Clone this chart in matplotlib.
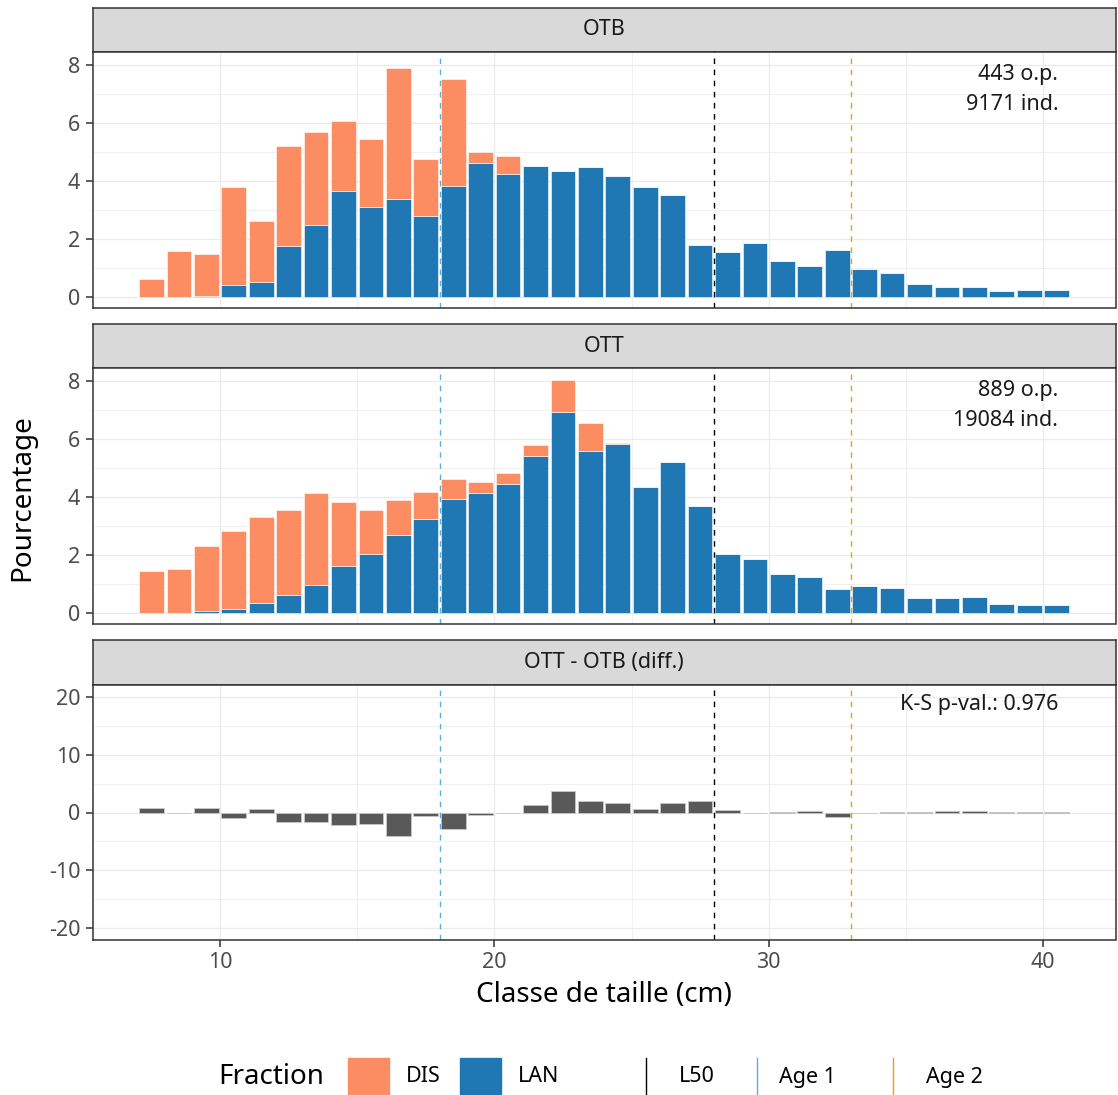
import numpy as np
import matplotlib
matplotlib.use("Agg")
import matplotlib.pyplot as plt
from matplotlib.patches import Rectangle
from matplotlib.lines import Line2D
from matplotlib.ticker import MultipleLocator

plt.rcParams['font.family'] = ['Noto Sans', 'DejaVu Sans']
plt.rcParams['axes.unicode_minus'] = False

# size classes (cm), bar centres
size_class = np.arange(7.5, 41, 1.0)

# OTB: percentages by fraction
otb_lan = [0, 0, 0.02, 0.40, 0.52, 1.75, 2.48, 3.66, 3.10, 3.38, 2.77, 3.84, 4.62, 4.24,
           4.52, 4.33, 4.49, 4.16, 3.80, 3.52, 1.77, 1.55, 1.85, 1.22, 1.05, 1.62, 0.97,
           0.82, 0.45, 0.33, 0.33, 0.18, 0.22, 0.24]
otb_dis = [0.62, 1.57, 1.47, 3.39, 2.09, 3.47, 3.21, 2.42, 2.35, 4.52, 2.00, 3.69, 0.38,
           0.62, 0, 0, 0, 0, 0, 0, 0, 0, 0, 0, 0, 0, 0, 0, 0, 0, 0, 0, 0, 0]

# OTT: percentages by fraction
ott_lan = [0, 0, 0.08, 0.15, 0.33, 0.62, 0.98, 1.63, 2.05, 2.68, 3.25, 3.92, 4.16, 4.46,
           5.41, 6.94, 5.61, 5.82, 4.34, 5.22, 3.70, 2.05, 1.85, 1.33, 1.26, 0.83, 0.94,
           0.85, 0.53, 0.52, 0.56, 0.30, 0.26, 0.28]
ott_dis = [1.46, 1.53, 2.22, 2.68, 2.97, 2.93, 3.15, 2.21, 1.50, 1.21, 0.93, 0.71, 0.37,
           0.37, 0.39, 1.09, 0.94, 0.05, 0, 0, 0, 0, 0, 0, 0, 0, 0, 0, 0, 0, 0, 0, 0, 0]

panel_titles = ["OTB", "OTT", "OTT - OTB (diff.)"]
otb_notes = ["443 o.p.", "9171 ind."]
ott_notes = ["889 o.p.", "19084 ind."]
ks_note = "K-S p-val.: 0.976"

l50 = 28
age1 = 18
age2 = 33

C_DIS = "#FC8D62"
C_LAN = "#1F77B4"
C_DIFF = "#595959"
C_L50 = "black"
C_AGE1 = "#5AAFDD"
C_AGE2 = "#E8A600"
GRID = "#EBEBEB"
DARK = "#333333"
TICK = "#4D4D4D"

W, H = 1118, 1095
fig = plt.figure(figsize=(W / 100, H / 100), dpi=100)


def px_axes(x0, y0, x1, y1):
    # pixel box (top-left origin) -> figure axes
    return fig.add_axes([x0 / W, 1 - y1 / H, (x1 - x0) / W, (y1 - y0) / H])


LEFT, RIGHT = 92.7, 1115.5
panels = [(7.5, 52.0, 308.0), (323.7, 368.3, 624.3), (640.3, 685.0, 940.0)]


def strip(y0, y1, label):
    s = px_axes(LEFT, y0, RIGHT, y1)
    s.set_facecolor("#D9D9D9")
    s.set_xticks([])
    s.set_yticks([])
    for sp in s.spines.values():
        sp.set_color(DARK)
        sp.set_linewidth(1.1)
    s.text(0.5, 0.5, label, ha="center", va="center", fontsize=15.5, color="#1A1A1A",
           transform=s.transAxes)


def style_panel(ax, show_x):
    ax.set_xlim(5.355, 42.645)
    ax.xaxis.set_major_locator(MultipleLocator(10))
    ax.xaxis.set_minor_locator(MultipleLocator(5))
    ax.grid(True, which="major", color=GRID, lw=0.9)
    ax.grid(True, which="minor", color=GRID, lw=0.5)
    ax.set_axisbelow(True)
    for sp in ax.spines.values():
        sp.set_color(DARK)
        sp.set_linewidth(1.1)
    ax.tick_params(axis="y", which="major", length=5, width=1.1, color=DARK,
                   labelsize=15.5, labelcolor=TICK, pad=4)
    ax.tick_params(which="minor", length=0)
    if show_x:
        ax.tick_params(axis="x", which="major", length=5, width=1.1, color=DARK,
                       labelsize=15.5, labelcolor=TICK, pad=4)
    else:
        ax.tick_params(axis="x", which="major", length=0, labelbottom=False)


def ref_lines(ax):
    dash = (0, (4, 4))
    ax.axvline(l50, color=C_L50, lw=1.0, ls=dash)
    ax.axvline(age1, color=C_AGE1, lw=1.0, ls=dash)
    ax.axvline(age2, color=C_AGE2, lw=1.0, ls=dash)


def stacked(ax, lan, dis, notes):
    lan = np.array(lan)
    dis = np.array(dis)
    ax.bar(size_class, lan, width=0.9, color=C_LAN, edgecolor="white", lw=0.4)
    ax.bar(size_class, dis, bottom=lan, width=0.9, color=C_DIS, edgecolor="white", lw=0.4)
    ax.set_ylim(-0.39, 8.45)
    ax.yaxis.set_major_locator(MultipleLocator(2))
    ax.yaxis.set_minor_locator(MultipleLocator(1))
    ref_lines(ax)
    ax.text(0.944, 0.913, notes[0], ha="right", va="center", fontsize=15.5,
            color="#1A1A1A", transform=ax.transAxes)
    ax.text(0.944, 0.795, notes[1], ha="right", va="center", fontsize=15.5,
            color="#1A1A1A", transform=ax.transAxes)


# OTB panel
strip(panels[0][0], panels[0][1], panel_titles[0])
ax1 = px_axes(LEFT, panels[0][1], RIGHT, panels[0][2])
style_panel(ax1, False)
stacked(ax1, otb_lan, otb_dis, otb_notes)

# OTT panel
strip(panels[1][0], panels[1][1], panel_titles[1])
ax2 = px_axes(LEFT, panels[1][1], RIGHT, panels[1][2])
style_panel(ax2, False)
stacked(ax2, ott_lan, ott_dis, ott_notes)

# difference of totals
diff = (np.array(ott_lan) + np.array(ott_dis)) - (np.array(otb_lan) + np.array(otb_dis))
strip(panels[2][0], panels[2][1], panel_titles[2])
ax3 = px_axes(LEFT, panels[2][1], RIGHT, panels[2][2])
style_panel(ax3, True)
ax3.bar(size_class, diff, width=0.9, color=C_DIFF, edgecolor="#C8C8C8", lw=0.6)
ax3.set_ylim(-22, 22)
ax3.yaxis.set_major_locator(MultipleLocator(10))
ax3.yaxis.set_minor_locator(MultipleLocator(5))
ref_lines(ax3)
ax3.text(0.944, 0.923, ks_note, ha="right", va="center", fontsize=15.5,
         color="#1A1A1A", transform=ax3.transAxes)

# axis titles
fig.text(22 / W, 1 - 498 / H, "Pourcentage", rotation=90, ha="center", va="center",
         fontsize=20, color="black")
fig.text(604 / W, 1 - 995 / H, "Classe de taille (cm)", ha="center", va="center",
         fontsize=20, color="black")

# legend row
ly = 1 - 1077 / H
kh = 38 / H
fig.text(218 / W, ly, "Fraction", ha="left", va="center", fontsize=20)
for x0, col, lab, tx in [(348, C_DIS, "DIS", 406), (460, C_LAN, "LAN", 518)]:
    fig.add_artist(Rectangle((x0 / W, ly - kh / 2), 41 / W, kh, color=col,
                             transform=fig.transFigure))
    fig.text(tx / W, ly, lab, ha="left", va="center", fontsize=15.5)
for xl, col, lab, tx in [(646, C_L50, "L50", 679), (757, C_AGE1, "Age 1", 779),
                         (893, C_AGE2, "Age 2", 926)]:
    fig.add_artist(Line2D([xl / W, xl / W], [ly - kh / 2, ly + kh / 2], color=col,
                          lw=1.0, transform=fig.transFigure))
    fig.text(tx / W, ly, lab, ha="left", va="center", fontsize=15.5)

fig.savefig("out.png", dpi=100, facecolor="white")
